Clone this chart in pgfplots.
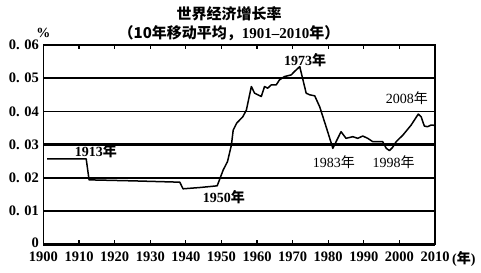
\documentclass[border=0pt]{standalone}
\usepackage{pgfplots}
\pgfplotsset{compat=1.18}
\usepackage{fontspec}
\setmainfont{Liberation Serif}
\newfontfamily\cjk{Noto Sans CJK SC}
\newcommand\nian{{\cjk 年}}
\begin{document}
\begin{tikzpicture}
\begin{axis}[
  scale only axis, width=391.5pt, height=199.3pt,
  xmin=1900, xmax=2010, ymin=0, ymax=0.06,
  clip=false,
  scaled y ticks=false,
  axis line style={line width=1.8pt},
  xtick={1900,1910,...,2010},
  xticklabels={1900,1910,1920,1930,1940,1950,1960,1970,1980,1990,2000,2010},
  ytick={0,0.01,0.02,0.03,0.04,0.05,0.06},
  yticklabels={\raisebox{3pt}{0},0. 01,0. 02,0. 03,0. 04,0. 05,0. 06},
  tick align=inside,
  major tick length=4pt,
  xtick style={line width=1.2pt,black},
  ytick style={draw=none},
  ymajorgrids,
  grid style={line width=1.5pt,black},
  ticklabel style={font=\fontsize{14.5}{16}\selectfont\bfseries},
  xticklabel style={yshift=-4.5pt},
  yticklabel style={xshift=-1pt},
]
\draw[line width=2.8pt] (axis cs:1900,0.03) -- (axis cs:2010,0.03);
\draw[line width=3pt] (axis cs:1900,0) -- (axis cs:2010,0);
\addplot[line width=1.5pt, black, line join=round] coordinates {
(1901,0.0257) (1912,0.0257) (1912.8,0.0194) (1925,0.0191) (1938.3,0.0187)
(1939.2,0.0167) (1944,0.0171) (1948.8,0.0176) (1950.5,0.0224) (1951.7,0.0249)
(1952.8,0.0299) (1953.3,0.0344) (1954.3,0.0365) (1956,0.0384) (1957,0.0404)
(1958.4,0.0475) (1959.3,0.0455) (1961.2,0.0445) (1962.1,0.0475) (1963,0.0470)
(1964,0.0480) (1965.4,0.0480) (1966.3,0.0495) (1967.7,0.0505) (1969.6,0.0510)
(1970.5,0.0520) (1971.5,0.0530) (1972,0.0535) (1973.8,0.0455) (1974.8,0.0450)
(1976.2,0.0447) (1977.6,0.0414) (1979.4,0.0354) (1981.3,0.0289) (1983.6,0.0339)
(1985,0.0319) (1986.9,0.0324) (1988.3,0.0319) (1989.7,0.0326) (1991.1,0.0319)
(1992.5,0.0309) (1995.3,0.0309) (1996.3,0.0289) (1997.2,0.0282) (1998.1,0.0292)
(1999.1,0.0309) (2001,0.0329) (2003.3,0.0359) (2005.3,0.0392) (2006.1,0.0384)
(2007,0.0356) (2007.9,0.0354) (2008.9,0.0359) (2010,0.0358)
};
\node[font=\fontsize{14}{16}\selectfont\bfseries] at (axis cs:1914.7,0.0279) {1913\nian};
\node[font=\fontsize{14}{16}\selectfont\bfseries] at (axis cs:1950.7,0.0143) {1950\nian};
\node[font=\fontsize{14}{16}\selectfont\bfseries] at (axis cs:1973.5,0.0555) {1973\nian};
\node[font=\fontsize{14}{16}\selectfont] at (axis cs:2002.1,0.0440) {2008\nian};
\node[font=\fontsize{14}{16}\selectfont] at (axis cs:1981.6,0.0247) {1983\nian};
\node[font=\fontsize{14}{16}\selectfont] at (axis cs:1998.4,0.0247) {1998\nian};
\node[font=\fontsize{14}{16}\selectfont\bfseries] at (rel axis cs:0.0,1.063) {\%};
\node[font=\fontsize{14}{16}\selectfont\bfseries,anchor=west] at (rel axis cs:1.035,-0.072) {(\nian)};
\node[font=\cjk\fontsize{15}{17}\selectfont\bfseries] at (rel axis cs:0.474,1.156) {世界经济增长率};
\node[font=\fontsize{15}{17}\selectfont\bfseries] at (rel axis cs:0.474,1.059) {{\cjk （10年移动平均，}1901–2010{\cjk 年）}};
\end{axis}
\path ([xshift=-43.5pt,yshift=-28.7pt]current axis.south west) rectangle ([xshift=46pt,yshift=45pt]current axis.north east);
\end{tikzpicture}
\end{document}
